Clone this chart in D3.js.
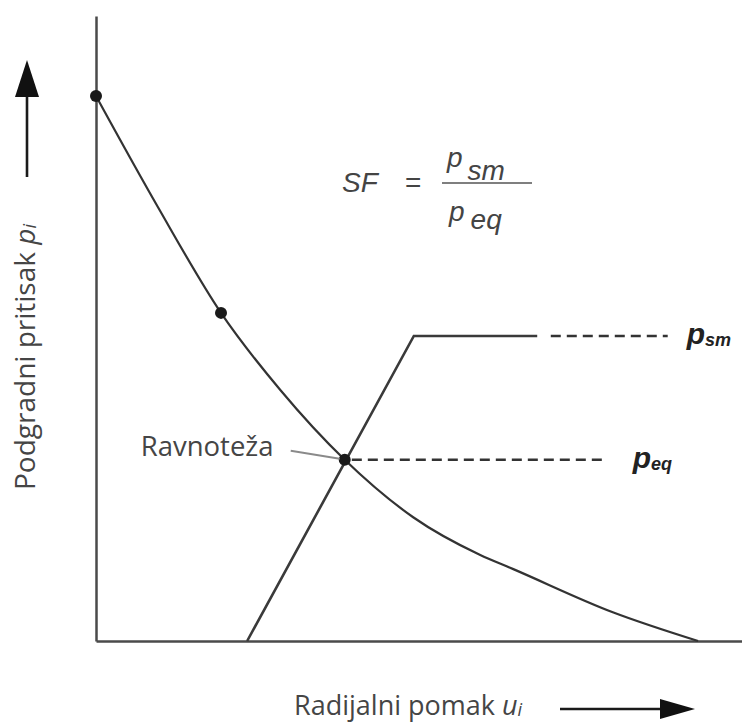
<!DOCTYPE html>
<meta charset="utf-8">
<style>

body {
  margin: 0;
  background: #ffffff;
}

.axis path {
  stroke: #4a4a4a;
  stroke-width: 2.5px;
}

.curve {
  fill: none;
  stroke: #333333;
  stroke-width: 2.2px;
}

.support {
  fill: none;
  stroke: #3a3a3a;
  stroke-width: 2.6px;
}

.dashed {
  stroke: #333333;
  stroke-width: 2.4px;
  stroke-dasharray: 10 6;
}

.label {
  font-family: "Open Sans", "Noto Sans", sans-serif;
  fill: #454545;
}

.formula {
  font-family: "Liberation Sans", Arial, sans-serif;
  font-style: italic;
  fill: #444444;
}

.plabel {
  font-family: "Liberation Sans", Arial, sans-serif;
  font-style: italic;
  font-weight: bold;
  fill: #222222;
}

</style>
<svg width=742 height=722></svg>
<script src="https://cdn.jsdelivr.net/npm/d3@7"></script>
<script>

const width = 742,
      height = 722;

// ground reaction curve (radial displacement u, support pressure p)
const curveU = [0, 9.6, 19.35, 28.5, 38.5, 49.1, 59.4, 64.6, 80.0, 93.2];
const curveP = [87.2, 69.4, 52.5, 40.2, 29.0, 19.8, 13.8, 11.5, 4.6, 0];

// marked points on the curve
const dotU = [0, 19.35, 38.5];
const dotP = [87.2, 52.5, 29.0];

// support characteristic line
const supportU = [23.4, 49.2, 68.3];
const supportP = [0, 48.8, 48.8];

// dashed reference levels
const levelNames = ["sm", "eq"];
const levelP = [48.8, 29.0];
const levelFrom = [70.4, 39.6];
const levelTo = [88.5, 78.9];

const xTitle = "Radijalni pomak ";
const yTitle = "Podgradni pritisak ";
const eqLabel = "Ravnoteža";

var svg = d3.select("svg")
  .attr("width", width)
  .attr("height", height);

var x = d3.scaleLinear().domain([0, 100]).range([96, 742]);
var y = d3.scaleLinear().domain([0, 100]).range([641, 16]);

svg.append("g")
  .attr("class", "axis")
  .attr("transform", "translate(0," + y(0) + ")")
  .call(d3.axisBottom(x).ticks(0).tickSizeOuter(0));

svg.append("g")
  .attr("class", "axis")
  .attr("transform", "translate(" + x(0) + ",0)")
  .call(d3.axisLeft(y).ticks(0).tickSizeOuter(0));

var curveData = curveU.map(function(u, i) { return [u, curveP[i]]; });
var line = d3.line()
  .x(function(d) { return x(d[0]); })
  .y(function(d) { return y(d[1]); });

svg.append("path")
  .attr("class", "curve")
  .attr("d", line.curve(d3.curveMonotoneX)(curveData));

var supportData = supportU.map(function(u, i) { return [u, supportP[i]]; });
svg.append("path")
  .attr("class", "support")
  .attr("stroke-linejoin", "miter")
  .attr("d", d3.line()
    .x(function(d) { return x(d[0]); })
    .y(function(d) { return y(d[1]); })(supportData));

svg.selectAll(".dashed")
  .data(levelP)
  .enter().append("line")
  .attr("class", "dashed")
  .attr("x1", function(d, i) { return x(levelFrom[i]); })
  .attr("x2", function(d, i) { return x(levelTo[i]); })
  .attr("y1", function(d) { return y(d); })
  .attr("y2", function(d) { return y(d); });

svg.selectAll(".dot")
  .data(dotU)
  .enter().append("circle")
  .attr("class", "dot")
  .attr("cx", function(d) { return x(d); })
  .attr("cy", function(d, i) { return y(dotP[i]); })
  .attr("r", 6)
  .attr("fill", "#1a1a1a");

// p_sm / p_eq labels at the end of the dashed lines
var plabels = svg.selectAll(".plabel")
  .data(levelP)
  .enter().append("text")
  .attr("class", "plabel")
  .attr("x", function(d, i) { return x(levelTo[i]) + (i == 0 ? 19 : 27); })
  .attr("y", function(d) { return y(d) + 8; })
  .attr("font-size", 30);
plabels.append("tspan").text("p");
plabels.append("tspan")
  .attr("font-size", 18)
  .attr("dy", 2)
  .text(function(d, i) { return levelNames[i]; });

// equilibrium callout
var eqX = x(dotU[2]), eqY = y(dotP[2]);
svg.append("line")
  .attr("x1", eqX - 54).attr("y1", eqY - 9)
  .attr("x2", eqX - 5).attr("y2", eqY - 1)
  .attr("stroke", "#8a8a8a")
  .attr("stroke-width", 1.8);
svg.append("text")
  .attr("class", "label")
  .attr("x", eqX - 204)
  .attr("y", eqY - 4)
  .attr("font-size", 27.5)
  .text(eqLabel);

// safety factor formula
var f = svg.append("g").attr("class", "formula").attr("font-size", 28);
f.append("text").attr("x", 342).attr("y", 192).text("SF");
f.append("text").attr("x", 405).attr("y", 192).attr("font-style", "normal").text("=");
f.append("line")
  .attr("x1", 442).attr("x2", 532)
  .attr("y1", 183).attr("y2", 183)
  .attr("stroke", "#555555")
  .attr("stroke-width", 1.6);
var num = f.append("text").attr("x", 447).attr("y", 167);
num.append("tspan").text("p");
num.append("tspan").attr("dx", 5).attr("dy", 13).text(levelNames[0]);
var den = f.append("text").attr("x", 449).attr("y", 221);
den.append("tspan").text("p");
den.append("tspan").attr("dx", 6).attr("dy", 8).text(levelNames[1]);

// axis titles with arrows
var xt = svg.append("text")
  .attr("class", "label")
  .attr("x", 294)
  .attr("y", 715)
  .attr("font-size", 27);
xt.append("tspan").text(xTitle);
xt.append("tspan").attr("font-style", "italic").text("u");
xt.append("tspan").attr("font-style", "italic").attr("font-size", 18).attr("dy", 1).text("i");

var yt = svg.append("text")
  .attr("class", "label")
  .attr("transform", "translate(35,490) rotate(-90)")
  .attr("font-size", 28);
yt.append("tspan").text(yTitle);
yt.append("tspan").attr("font-style", "italic").text("p");
yt.append("tspan").attr("font-style", "italic").attr("font-size", 18).attr("dy", 1).text("i");

svg.append("line")
  .attr("x1", 560).attr("x2", 664)
  .attr("y1", 709).attr("y2", 709)
  .attr("stroke", "#1a1a1a").attr("stroke-width", 2.6);
svg.append("path")
  .attr("d", "M660,699L695,709L660,719Z")
  .attr("fill", "#111111");

svg.append("line")
  .attr("x1", 27).attr("x2", 27)
  .attr("y1", 177).attr("y2", 93)
  .attr("stroke", "#1a1a1a").attr("stroke-width", 2.6);
svg.append("path")
  .attr("d", "M15,97L27,60L39,97Z")
  .attr("fill", "#111111");

</script>
